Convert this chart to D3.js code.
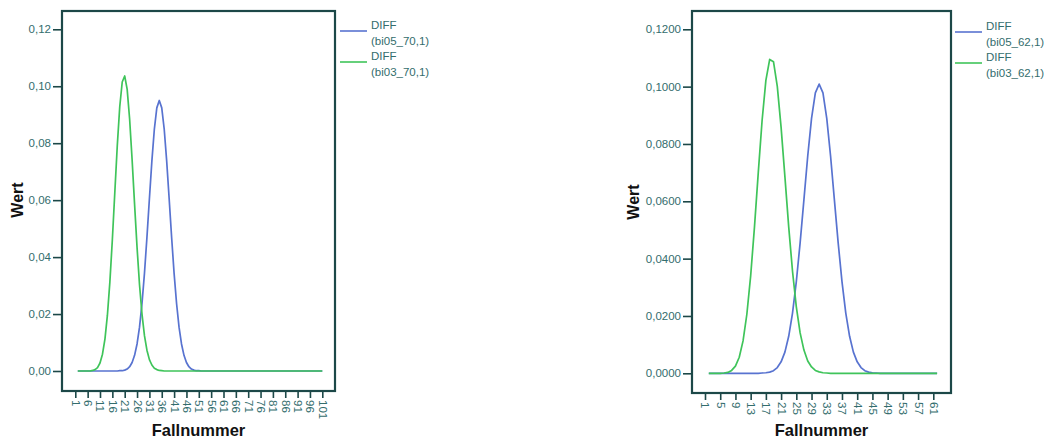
<!DOCTYPE html>
<html>
<head>
<meta charset="utf-8">
<script src="https://cdn.jsdelivr.net/npm/d3@7"></script>
<style>
  body { margin: 0; background: #fff; }
  text { font-family: "Liberation Sans", Arial, sans-serif; }
</style>
</head>
<body>
<script>
// valores DIFF por caso, el primer caso (1) no tiene diferencia
var primer_caso = 2;

// casos 2..101
var diff_bi05_70 = [
  0, 0, 0, 0, 0, 0, 0, 0, 0, 0,
  0, 0, 0, 0, 0, 0, 0, 0.0001, 0.0001, 0.0003,
  0.0007, 0.0015, 0.0030, 0.0055, 0.0095, 0.0154, 0.0237, 0.0343, 0.0469, 0.0605,
  0.0737, 0.0849, 0.0924, 0.0950, 0.0924, 0.0849, 0.0737, 0.0605, 0.0469, 0.0343,
  0.0237, 0.0154, 0.0095, 0.0055, 0.0030, 0.0015, 0.0007, 0.0003, 0.0001, 0.0001,
  0, 0, 0, 0, 0, 0, 0, 0, 0, 0,
  0, 0, 0, 0, 0, 0, 0, 0, 0, 0,
  0, 0, 0, 0, 0, 0, 0, 0, 0, 0,
  0, 0, 0, 0, 0, 0, 0, 0, 0, 0,
  0, 0, 0, 0, 0, 0, 0, 0, 0, 0
];
var diff_bi03_70 = [
  0, 0, 0, 0, 0, 0, 0.0002, 0.0005, 0.0012, 0.0028,
  0.0059, 0.0112, 0.0196, 0.0313, 0.0461, 0.0628, 0.0792, 0.0929, 0.1015, 0.1036,
  0.0989, 0.0884, 0.0742, 0.0585, 0.0434, 0.0303, 0.0200, 0.0124, 0.0073, 0.0040,
  0.0021, 0.0010, 0.0005, 0.0002, 0.0001, 0, 0, 0, 0, 0,
  0, 0, 0, 0, 0, 0, 0, 0, 0, 0,
  0, 0, 0, 0, 0, 0, 0, 0, 0, 0,
  0, 0, 0, 0, 0, 0, 0, 0, 0, 0,
  0, 0, 0, 0, 0, 0, 0, 0, 0, 0,
  0, 0, 0, 0, 0, 0, 0, 0, 0, 0,
  0, 0, 0, 0, 0, 0, 0, 0, 0, 0
];

// casos 2..62
var diff_bi05_62 = [
  0, 0, 0, 0, 0, 0, 0, 0, 0, 0,
  0, 0, 0, 0, 0.0001, 0.0002, 0.0004, 0.0009, 0.0020, 0.0040,
  0.0074, 0.0129, 0.0210, 0.0320, 0.0455, 0.0606, 0.0758, 0.0889, 0.0978, 0.1009,
  0.0978, 0.0889, 0.0758, 0.0606, 0.0455, 0.0320, 0.0210, 0.0129, 0.0074, 0.0040,
  0.0020, 0.0009, 0.0004, 0.0002, 0.0001, 0, 0, 0, 0, 0,
  0, 0, 0, 0, 0, 0, 0, 0, 0, 0,
  0
];
var diff_bi03_62 = [
  0, 0, 0, 0, 0.0001, 0.0003, 0.0010, 0.0025, 0.0056, 0.0113,
  0.0206, 0.0340, 0.0510, 0.0700, 0.0881, 0.1022, 0.1095, 0.1087, 0.1001, 0.0858,
  0.0686, 0.0511, 0.0356, 0.0232, 0.0141, 0.0081, 0.0043, 0.0022, 0.0010, 0.0005,
  0.0002, 0.0001, 0, 0, 0, 0, 0, 0, 0, 0,
  0, 0, 0, 0, 0, 0, 0, 0, 0, 0,
  0, 0, 0, 0, 0, 0, 0, 0, 0, 0,
  0
];

var ticks_x_70 = [1, 6, 11, 16, 21, 26, 31, 36, 41, 46, 51, 56, 61, 66, 71, 76, 81, 86, 91, 96, 101];
var ticks_x_62 = [1, 5, 9, 13, 17, 21, 25, 29, 33, 37, 41, 45, 49, 53, 57, 61];
var ticks_y = [0, 0.02, 0.04, 0.06, 0.08, 0.10, 0.12];

var leyenda_70 = ["(bi05_70,1)", "(bi03_70,1)"];
var leyenda_62 = ["(bi05_62,1)", "(bi03_62,1)"];

var azul = "#5873d0", verde = "#3fc45a";
var col_texto = "#336d6d", col_eje = "#1c4848";

var loc = d3.formatLocale({decimal: ",", thousands: ".", grouping: [3], currency: ["", " €"]});

var svg = d3.select("body").append("svg")
    .attr("width", 1045)
    .attr("height", 438);

function crea_grafico(c) {
    var g = svg.append("g");

    var x = d3.scaleLinear().domain(c.dom_x).range(c.rango_x);
    var y = d3.scaleLinear().domain([0, 0.12]).range(c.rango_y);

    // marco
    g.append("rect")
        .attr("x", c.marco[0]).attr("y", c.marco[1])
        .attr("width", c.marco[2] - c.marco[0])
        .attr("height", c.marco[3] - c.marco[1])
        .attr("fill", "none")
        .attr("stroke", col_eje)
        .attr("stroke-width", 2.2);

    var ejeY = g.append("g")
        .attr("transform", "translate(" + (c.marco[0] - 1) + ",0)")
        .call(d3.axisLeft(y).tickValues(ticks_y).tickSize(8).tickPadding(2).tickFormat(loc.format(c.fmt)));

    var ejeX = g.append("g")
        .attr("transform", "translate(0," + (c.marco[3] + 1) + ")")
        .call(d3.axisBottom(x).tickValues(c.ticks_x).tickSize(6));

    [ejeY, ejeX].forEach(function(e) {
        e.select(".domain").remove();
        e.selectAll(".tick line").attr("stroke", col_eje).attr("stroke-width", 1.6);
        e.selectAll(".tick text")
            .attr("fill", col_texto)
            .style("font-size", "11.5px")
            .style("font-family", "'Liberation Sans', Arial, sans-serif");
    });

    ejeX.selectAll(".tick text")
        .attr("x", 8)
        .attr("y", 0)
        .attr("dy", "0.35em")
        .attr("transform", "rotate(90)")
        .style("text-anchor", "start");

    var linea = d3.line()
        .x(function(d, i) { return x(primer_caso + i); })
        .y(function(d) { return y(d); });

    c.series.forEach(function(s, i) {
        g.append("path")
            .datum(s)
            .attr("fill", "none")
            .attr("stroke", c.colores[i])
            .attr("stroke-width", 1.7)
            .attr("stroke-linejoin", "round")
            .attr("d", linea);
    });

    // titulos de ejes
    g.append("text")
        .attr("transform", "translate(" + c.wert[0] + "," + c.wert[1] + ") rotate(-90)")
        .attr("text-anchor", "middle")
        .attr("dy", "0.35em")
        .style("font-size", "16px")
        .style("font-weight", "bold")
        .attr("fill", "#111")
        .text("Wert");

    g.append("text")
        .attr("x", (c.marco[0] + c.marco[2]) / 2)
        .attr("y", 436)
        .attr("text-anchor", "middle")
        .style("font-size", "16.5px")
        .style("font-weight", "bold")
        .attr("fill", "#111")
        .text("Fallnummer");

    // leyenda
    var ley = g.append("g").attr("transform", "translate(" + c.ley[0] + "," + c.ley[1] + ")");
    c.leyenda.forEach(function(t, i) {
        var fila = ley.append("g").attr("transform", "translate(0," + (i * 31) + ")");
        fila.append("line")
            .attr("x1", 0).attr("x2", 27)
            .attr("y1", 0).attr("y2", 0)
            .attr("stroke", c.colores[i])
            .attr("stroke-width", 1.6);
        fila.append("text")
            .attr("x", 31).attr("y", -2.5)
            .style("font-size", "11.5px")
            .attr("fill", col_texto)
            .text("DIFF");
        fila.append("text")
            .attr("x", 31).attr("y", 14)
            .style("font-size", "11.5px")
            .attr("fill", col_texto)
            .text(t);
    });
}

crea_grafico({
    marco: [62, 11, 335, 391],
    dom_x: [1, 101], rango_x: [75.3, 322.3],
    rango_y: [371, 29.3],
    ticks_x: ticks_x_70,
    fmt: ".2f",
    series: [diff_bi05_70, diff_bi03_70],
    colores: [azul, verde],
    leyenda: leyenda_70,
    wert: [17, 200],
    ley: [340, 31]
});

crea_grafico({
    marco: [692, 11, 951, 393],
    dom_x: [1, 61], rango_x: [705, 933.3],
    rango_y: [373.3, 29.3],
    ticks_x: ticks_x_62,
    fmt: ".4f",
    series: [diff_bi05_62, diff_bi03_62],
    colores: [azul, verde],
    leyenda: leyenda_62,
    wert: [633, 202],
    ley: [955, 32]
});
</script>
</body>
</html>
